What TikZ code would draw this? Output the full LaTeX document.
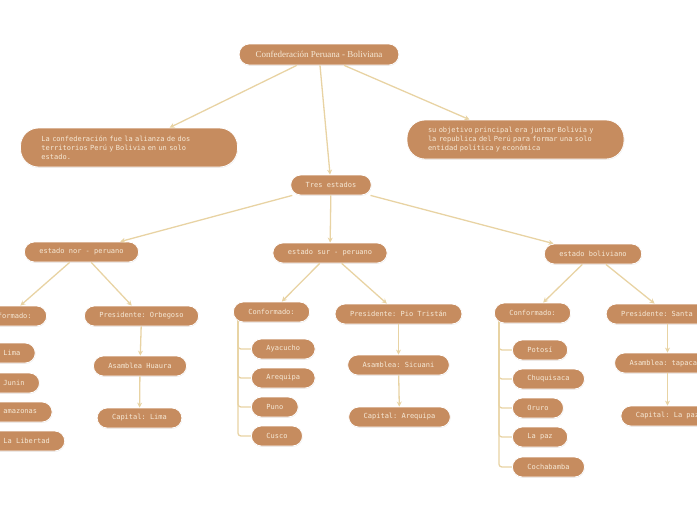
\documentclass[tikz,border=0pt]{standalone}
\usepackage{fontspec}
\setmainfont{Liberation Serif}
\setmonofont{DejaVu Sans Mono}
\usetikzlibrary{arrows.meta, shadows, backgrounds}
\definecolor{cbrown}{HTML}{C68C5F}
\definecolor{ctan}{HTML}{E8D3A3}
\definecolor{ccream}{HTML}{F6E9D6}
\tikzset{
  every picture/.style={line width=1.3pt},
  box/.style={draw=white, line width=0.8pt, fill=cbrown, text=ccream, rounded corners=10pt,
    inner xsep=15pt, inner ysep=2pt, minimum height=20pt,
    font=\ttfamily\fontsize{7}{9}\selectfont,
    drop shadow={opacity=0.18, shadow xshift=0.3pt, shadow yshift=-0.8pt}},
  arrow/.style={-{Stealth[length=5pt, width=5pt]}, draw=ctan, line width=1.3pt},
  bracket/.style={draw=ctan, line width=1.3pt, rounded corners=3pt},
}

\begin{document}
\begin{tikzpicture}[x=1pt, y=-1pt,
  head/.style={box, font=\rmfamily\fontsize{9}{11}\selectfont, minimum height=21pt, inner xsep=16.5pt},
  desc/.style={box, rounded corners=18pt, minimum height=39pt, text width=175pt, inner xsep=21pt, align=left},
  item/.style={box, anchor=west}]
  \useasboundingbox (0,0) rectangle (697,520);
  \clip (0,0) rectangle (697,520);
  \node[head] (top) at (319,54.5) {Confederación Peruana - Boliviana};
  \node[desc] (fue) at (129,147.5) {La confederación fue la alianza de dos\\territorios Perú y Bolivia en un solo\\estado.};
  \node[desc] (obj) at (515.5,139.5) {su objetivo principal era juntar Bolivia y\\la republica del Perú para formar una solo\\entidad política y económica};
  \node[box] (tres) at (331,185) {Tres estados};
  \node[box] (nor) at (81.5,252) {estado nor - peruano};
  \node[box] (sur) at (330,253) {estado sur - peruano};
  \node[box] (bol) at (593,254) {estado boliviano};
  % estado nor - peruano
  \node[box] (norconf) at (8.5,316) {Conformado:};
  \node[box] (norpres) at (141.5,316) {Presidente: Orbegoso};
  \node[box] (norasam) at (140,366) {Asamblea Huaura};
  \node[box] (norcap) at (139.5,418) {Capital: Lima};
  \node[item] (lima) at (-12,353) {Lima};
  \node[item] (junin) at (-12,383) {Junin};
  \node[item] (amaz) at (-12,412) {amazonas};
  \node[item] (liber) at (-12,441) {La Libertad};
  % estado sur - peruano
  \node[box] (surconf) at (271.5,312) {Conformado:};
  \node[box] (surpres) at (398.5,314) {Presidente: Pio Tristán};
  \node[box] (surasam) at (398.5,365) {Asamblea: Sicuani};
  \node[box] (surcap) at (399.5,417) {Capital: Arequipa};
  \node[item] (ayac) at (251,349) {Ayacucho};
  \node[item] (areq) at (251,378) {Arequipa};
  \node[item] (puno) at (251,407) {Puno};
  \node[item] (cusco) at (251,436) {Cusco};
  % estado boliviano
  \node[box] (bolconf) at (532.5,313) {Conformado:};
  \node[box] (bolpres) at (667.5,314) {Presidente: Santa Cruz};
  \node[box] (bolasam) at (667.5,363) {Asamblea: tapacarí};
  \node[box] (bolcap) at (667.5,416) {Capital: La paz};
  \node[item] (potosi) at (512,350) {Potosí};
  \node[item] (chuq) at (512,379) {Chuquisaca};
  \node[item] (oruro) at (512,408) {Oruro};
  \node[item] (lapaz) at (512,437) {La paz};
  \node[item] (cocha) at (512,467) {Cochabamba};
  % arrows
  \draw[arrow] (top) -- (fue);
  \draw[arrow] (top) -- (tres);
  \draw[arrow] (top) -- (obj);
  \foreach \s in {nor, sur, bol}
    \draw[arrow] (tres) -- (\s);
  \foreach \s in {nor, sur, bol} {
    \draw[arrow] (\s) -- (\s conf);
    \draw[arrow] (\s) -- (\s pres);
    \draw[arrow] (\s pres) -- (\s asam);
    \draw[arrow] (\s asam) -- (\s cap);
  }
  \begin{scope}[on background layer]
    \foreach \i in {lima, junin, amaz, liber}
      \draw[bracket] ([xshift=5pt, yshift=4pt]norconf.south west) |- (\i.west);
    \foreach \i in {ayac, areq, puno, cusco}
      \draw[bracket] ([xshift=5pt, yshift=4pt]surconf.south west) |- (\i.west);
    \foreach \i in {potosi, chuq, oruro, lapaz, cocha}
      \draw[bracket] ([xshift=5pt, yshift=4pt]bolconf.south west) |- (\i.west);
  \end{scope}
\end{tikzpicture}
\end{document}
